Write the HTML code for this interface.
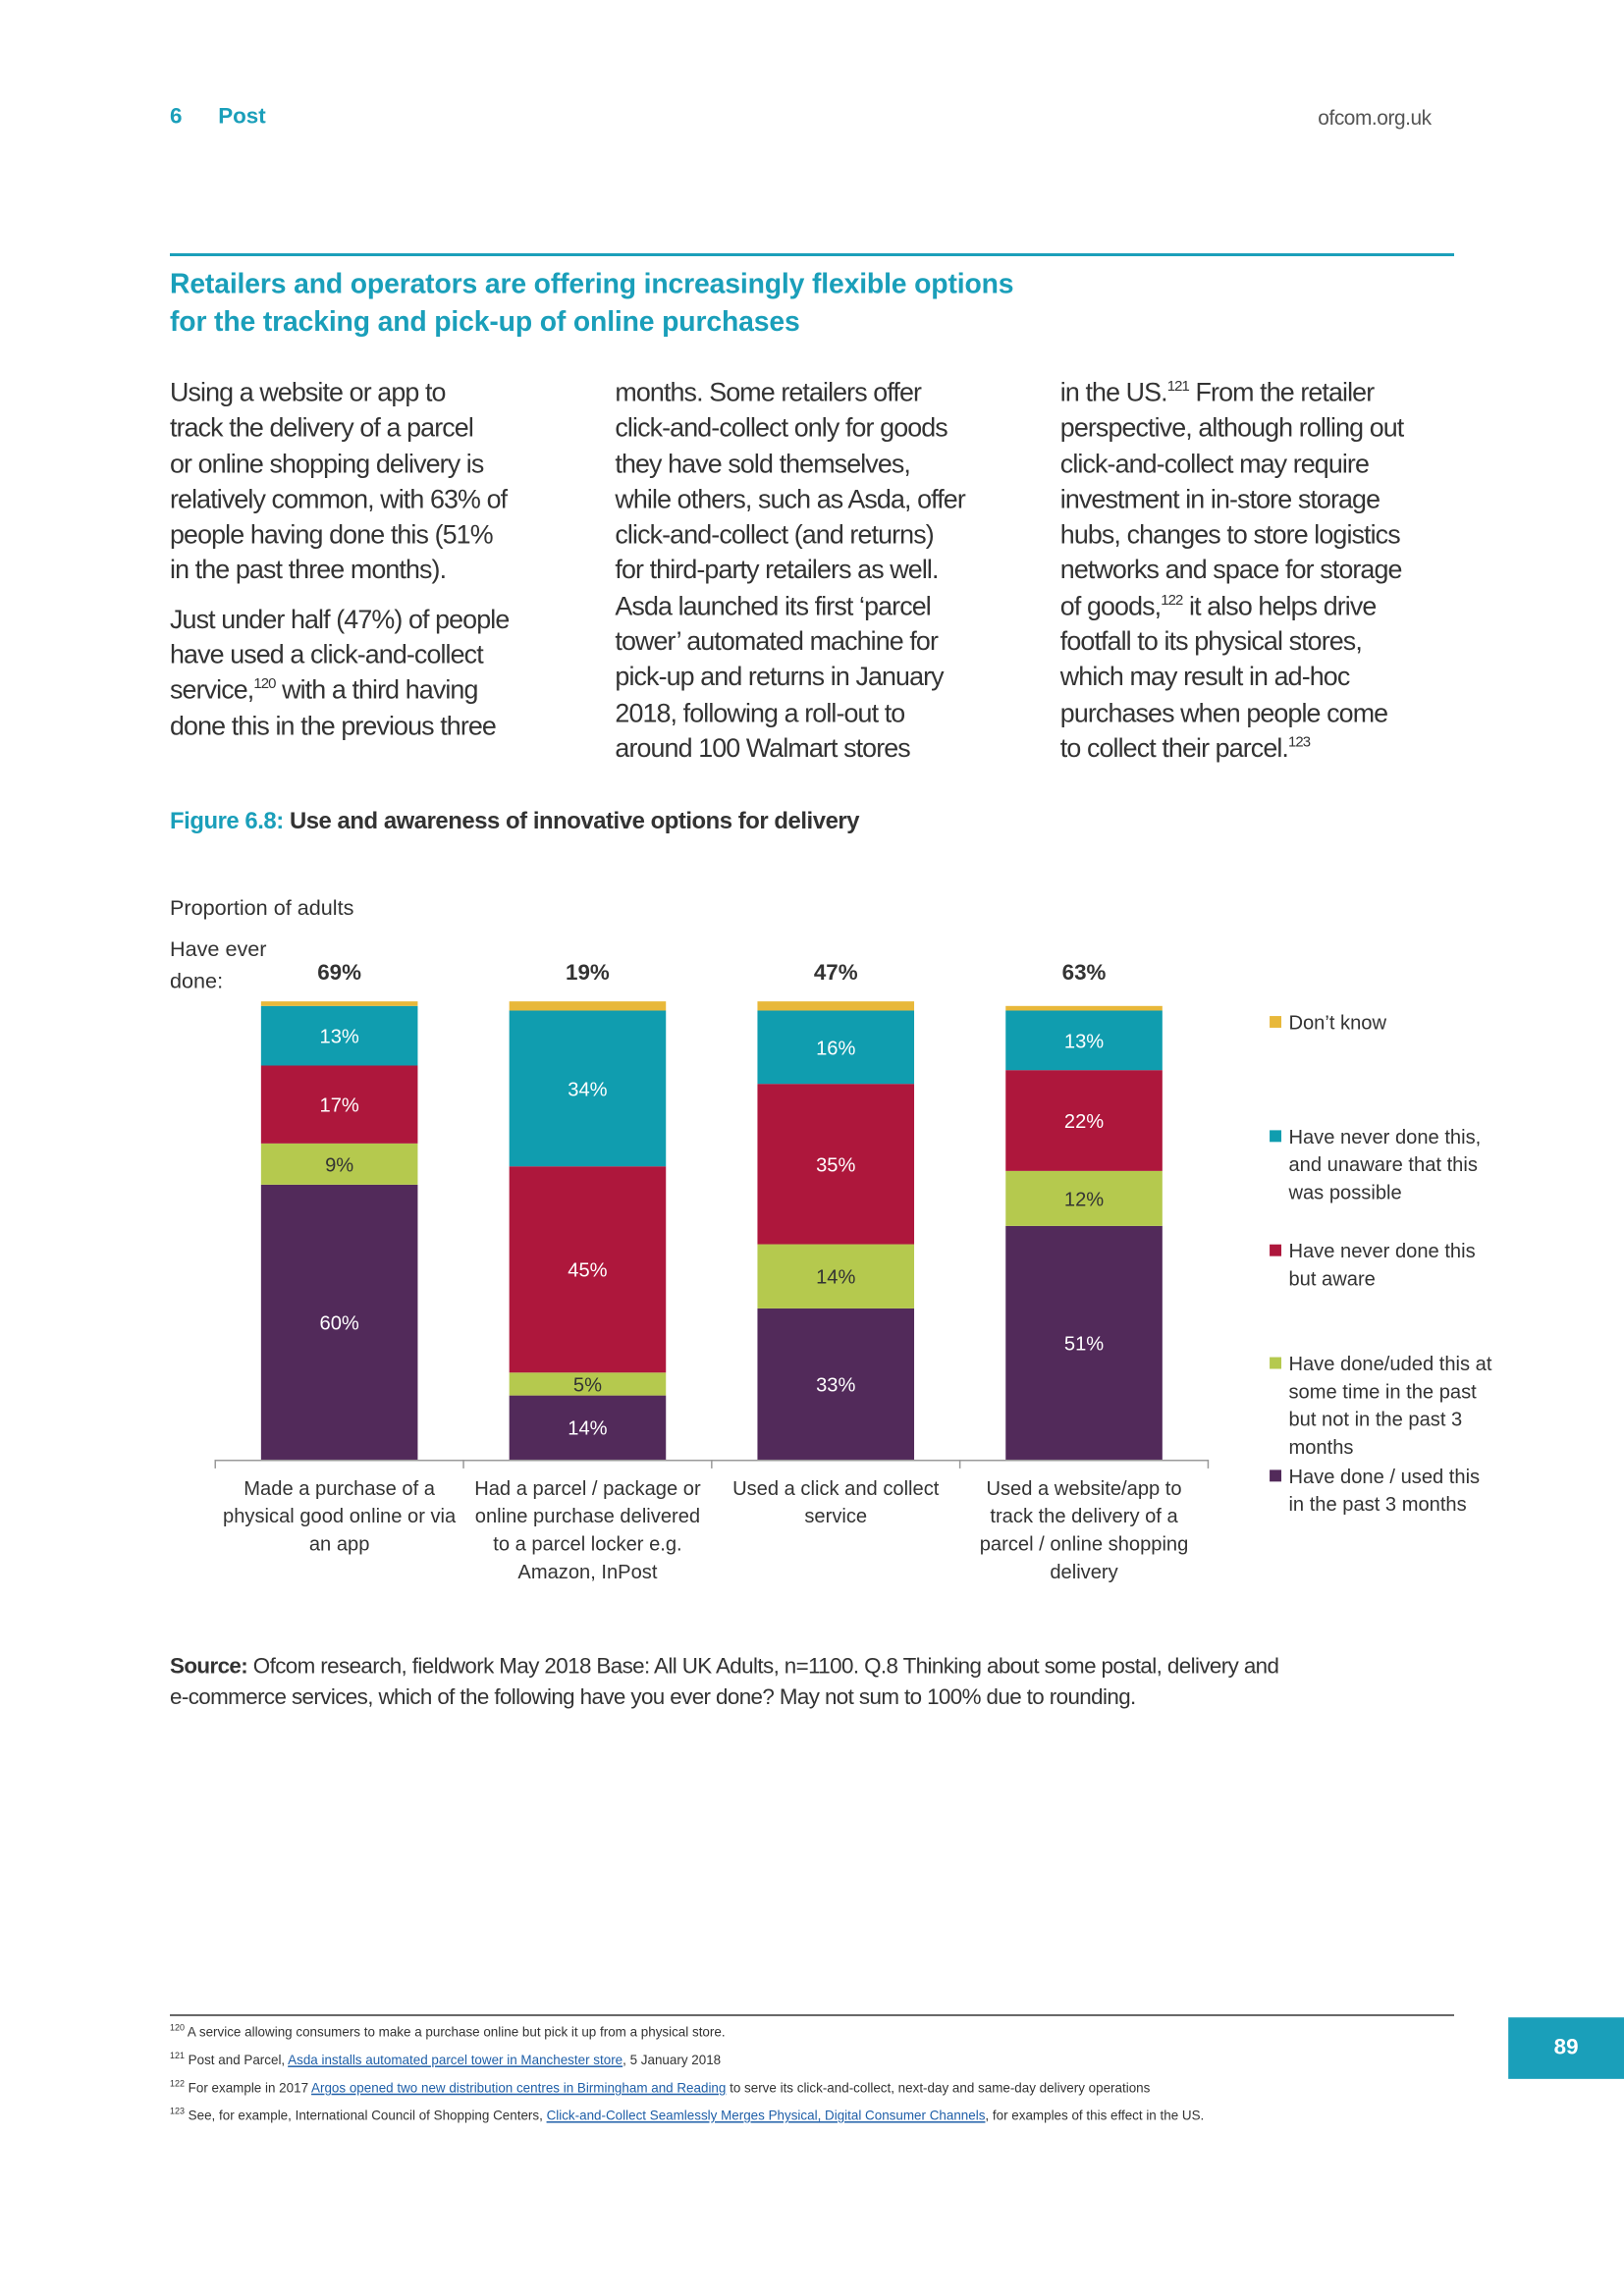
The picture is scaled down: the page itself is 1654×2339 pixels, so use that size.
<!DOCTYPE html>
<html><head><meta charset="utf-8">
<style>
html,body{margin:0;padding:0;background:#fff;}
body{width:1654px;height:2339px;overflow:hidden;position:relative;font-family:"Liberation Sans",sans-serif;}
#frame{position:absolute;left:0;top:0;width:1109px;height:1568px;transform:scale(1.49144);transform-origin:0 0;}
.abs{position:absolute;}
.col{position:absolute;top:256px;width:262px;font-size:18px;line-height:24.3px;color:#333;letter-spacing:-0.6px;}
.col p{margin:0 0 9px 0;}
sup{font-size:10px;line-height:0;}
.fn{position:absolute;left:116px;font-size:9px;color:#333;}
.fn sup{font-size:6px;}
.fn a{color:#1f5fa8;text-decoration:underline;}
</style></head><body>
<div id="frame">
<div class="abs" style="left:116px;top:71px;font-size:15px;font-weight:bold;color:#1a9fba;">6</div>
<div class="abs" style="left:149px;top:71px;font-size:15px;font-weight:bold;color:#1a9fba;">Post</div>
<div class="abs" style="left:900px;top:72px;font-size:14px;color:#555;letter-spacing:-0.3px;">ofcom.org.uk</div>
<div class="abs" style="left:116px;top:173px;width:877px;height:2px;background:#1a9fba;"></div>
<div class="abs" style="left:116px;top:182px;font-size:19px;line-height:26px;font-weight:bold;color:#1a9fba;letter-spacing:-0.1px;">Retailers and operators are offering increasingly flexible options<br>for the tracking and pick-up of online purchases</div>

<div class="col" style="left:116px;"><p>Using a website or app to<br>track the delivery of a parcel<br>or online shopping delivery is<br>relatively common, with 63% of<br>people having done this (51%<br>in the past three months).</p><p>Just under half (47%) of people<br>have used a click-and-collect<br>service,<sup>120</sup> with a third having<br>done this in the previous three</p></div>
<div class="col" style="left:420px;"><p>months. Some retailers offer<br>click-and-collect only for goods<br>they have sold themselves,<br>while others, such as Asda, offer<br>click-and-collect (and returns)<br>for third-party retailers as well.<br>Asda launched its first ‘parcel<br>tower’ automated machine for<br>pick-up and returns in January<br>2018, following a roll-out to<br>around 100 Walmart stores</p></div>
<div class="col" style="left:724px;"><p>in the US.<sup>121</sup> From the retailer<br>perspective, although rolling out<br>click-and-collect may require<br>investment in in-store storage<br>hubs, changes to store logistics<br>networks and space for storage<br>of goods,<sup>122</sup> it also helps drive<br>footfall to its physical stores,<br>which may result in ad-hoc<br>purchases when people come<br>to collect their parcel.<sup>123</sup></p></div>

<div class="abs" style="left:116px;top:553px;font-size:16px;font-weight:bold;color:#333;letter-spacing:-0.3px;"><span style="color:#1a9fba">Figure 6.8:</span> Use and awareness of innovative options for delivery</div>

<svg class="abs" id="chart" style="left:0;top:0;" width="1109" height="1100" viewBox="0 0 1109 1100">
<text x="116" y="625" font-size="14.5" fill="#333">Proportion of adults</text>
<text x="116" y="653" font-size="14.5" fill="#333">Have ever</text>
<text x="116" y="675" font-size="14.5" fill="#333">done:</text>
<g id="bars"></g>
<line x1="147" y1="997.5" x2="825" y2="997.5" stroke="#999" stroke-width="1"/>
<g id="xlabels"></g>
<g id="legend"></g>
</svg>

<div class="abs" style="left:116px;top:1128px;width:820px;font-size:15px;line-height:21px;color:#333;letter-spacing:-0.4px;"><b>Source:</b> Ofcom research, fieldwork May 2018 Base: All UK Adults, n=1100. Q.8 Thinking about some postal, delivery and<br>e-commerce services, which of the following have you ever done? May not sum to 100% due to rounding.</div>

<div class="abs" style="left:116px;top:1376px;width:877px;height:1px;background:#333;"></div>
<div class="abs" style="left:1030px;top:1378px;width:79px;height:42px;background:#1a9fba;color:#fff;font-weight:bold;font-size:15px;line-height:42px;text-align:center;">89</div>
<div class="fn" style="top:1383px;"><sup>120</sup> A service allowing consumers to make a purchase online but pick it up from a physical store.</div>
<div class="fn" style="top:1402px;"><sup>121</sup> Post and Parcel, <a>Asda installs automated parcel tower in Manchester store</a>, 5 January 2018</div>
<div class="fn" style="top:1421px;"><sup>122</sup> For example in 2017 <a>Argos opened two new distribution centres in Birmingham and Reading</a> to serve its click-and-collect, next-day and same-day delivery operations</div>
<div class="fn" style="top:1440px;"><sup>123</sup> See, for example, International Council of Shopping Centers, <a>Click-and-Collect Seamlessly Merges Physical, Digital Consumer Channels</a>, for examples of this effect in the US.</div>
</div>

<script>
const categories = [
  ["Made a purchase of a","physical good online or via","an app"],
  ["Had a parcel / package or","online purchase delivered","to a parcel locker e.g.","Amazon, InPost"],
  ["Used a click and collect","service"],
  ["Used a website/app to","track the delivery of a","parcel / online shopping","delivery"]
];
const doneRecent = [60, 14, 33, 51];
const donePast = [9, 5, 14, 12];
const neverAware = [17, 45, 35, 22];
const neverUnaware = [13, 34, 16, 13];
const dontKnow = [1, 2, 2, 1];
const everDone = ["69%", "19%", "47%", "63%"];

const NS = "http://www.w3.org/2000/svg";
const baseY = 997, plotH = 313, x0 = 147, x1 = 825, barW = 107;
const bandW = (x1 - x0) / categories.length;
function yScale(v){ return plotH * v / 100; }
function xCenter(i){ return x0 + bandW * (i + 0.5); }
function mk(tag, attrs){ const e = document.createElementNS(NS, tag); for (const k in attrs) e.setAttribute(k, attrs[k]); return e; }

const stack = [
  {vals: doneRecent, color: "#522a5a", label: true, key: "done-recent"},
  {vals: donePast, color: "#b5c94e", label: true, key: "done-past", tc: "#333"},
  {vals: neverAware, color: "#ae173c", label: true, key: "never-aware"},
  {vals: neverUnaware, color: "#109daf", label: true, key: "never-unaware"},
  {vals: dontKnow, color: "#e8b83a", label: false, key: "dont-know"}
];
const bars = document.getElementById("bars");
categories.forEach((c, i) => {
  let y = baseY;
  const cx = xCenter(i);
  stack.forEach(s => {
    const h = yScale(s.vals[i]);
    y -= h;
    const r = mk("rect", {x: cx - barW/2, y: y, width: barW, height: h, fill: s.color});
    
    
    bars.appendChild(r);
    if (s.label) {
      const t = mk("text", {x: cx, y: y + h/2 + 5, "font-size": 13.5, fill: s.tc || "#fff", "text-anchor": "middle"});
      t.textContent = s.vals[i] + "%";
      
      
      bars.appendChild(t);
    }
  });
  const tt = mk("text", {x: cx, y: 669, "font-size": 15, "font-weight": "bold", fill: "#333", "text-anchor": "middle"});
  tt.textContent = everDone[i];
  
  
  bars.appendChild(tt);
});
const xl = document.getElementById("xlabels");
for (let i = 0; i <= categories.length; i++) {
  const tx = x0 + bandW * i;
  const tk = mk("line", {x1: tx, y1: 997, x2: tx, y2: 1003, stroke: "#999"});
  
  
  xl.appendChild(tk);
}
categories.forEach((c, i) => {
  c.forEach((line, j) => {
    const t = mk("text", {x: xCenter(i), y: 1021 + j*19, "font-size": 13.5, fill: "#333", "text-anchor": "middle"});
    t.textContent = line;
    
    
    xl.appendChild(t);
  });
});
const legend = document.getElementById("legend");
const legItems = [
  {color: "#e8b83a", y: 703, lines: ["Don\u2019t know"]},
  {color: "#109daf", y: 781, lines: ["Have never done this,","and unaware that this","was possible"]},
  {color: "#ae173c", y: 859, lines: ["Have never done this","but aware"]},
  {color: "#b5c94e", y: 936, lines: ["Have done/uded this at","some time in the past","but not in the past 3","months"]},
  {color: "#522a5a", y: 1013, lines: ["Have done / used this","in the past 3 months"]}
];
legItems.forEach((it, k) => {
  const r = mk("rect", {x: 867, y: it.y - 9, width: 8, height: 8, fill: it.color});
  
  
  legend.appendChild(r);
  it.lines.forEach((l, j) => {
    const t = mk("text", {x: 880, y: it.y + j*19, "font-size": 13.5, fill: "#333"});
    t.textContent = l;
    
    
    legend.appendChild(t);
  });
});
</script>
</body></html>
